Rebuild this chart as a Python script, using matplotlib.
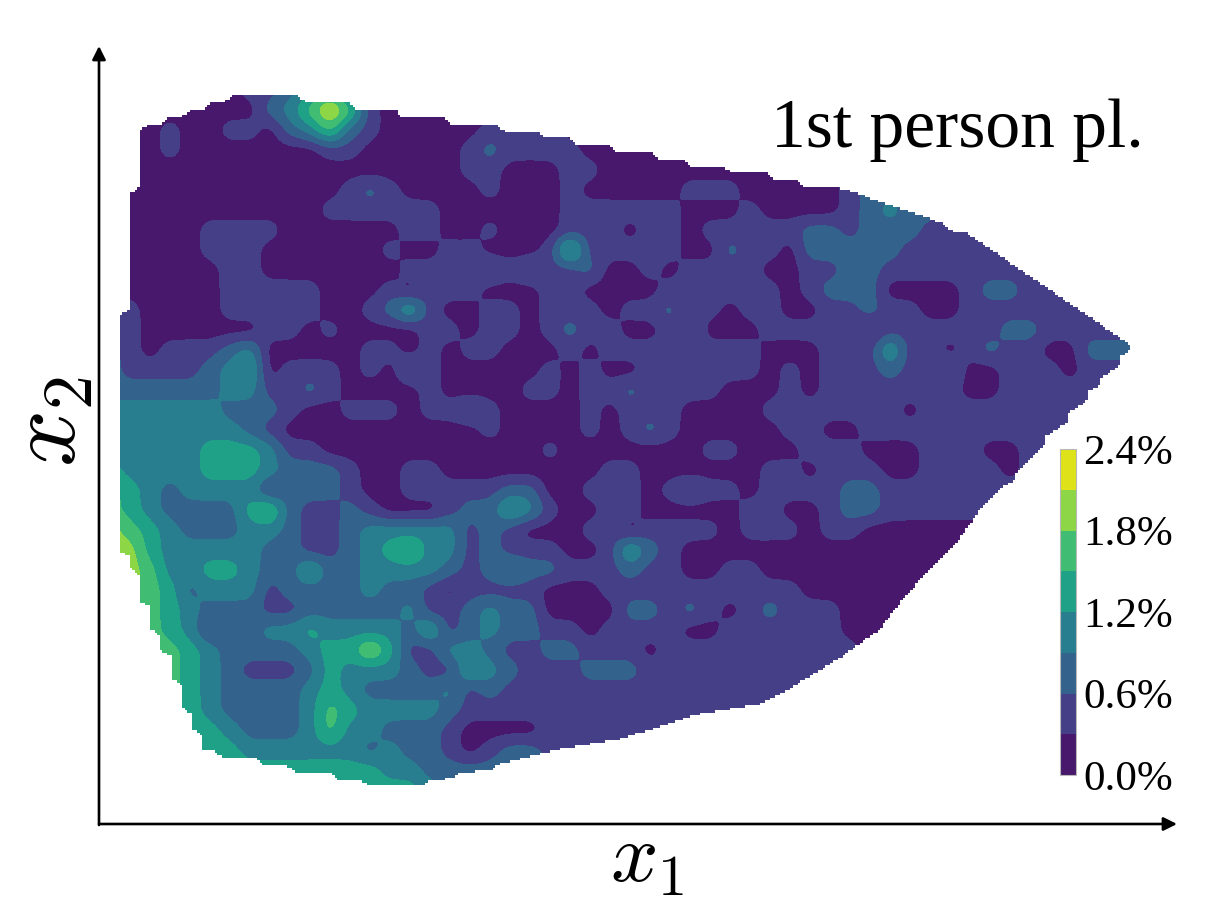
import numpy as np
import matplotlib
matplotlib.use("Agg")
from matplotlib import pyplot as plt
from matplotlib.path import Path

plt.rcParams['font.family'] = ['Liberation Serif', 'DejaVu Serif']
plt.rcParams['mathtext.fontset'] = 'cm'

# x1 / x2 have no scale in the picture, so positions are read off in image pixels
grid_x = [110 + 20 * i for i in range(52)]
grid_y = [90 + 20 * j for j in range(36)]

# band index per grid cell (0 = 0.0-0.3%, 1 = 0.3-0.6%, ...)
bands = [
 [0,0,0,0,0,0,0,1,1,2, 3,4,2,0,0,0,0,0,0,0, 0,0,0,0,0,0,0,0,0,0, 0,0,0,0,0,0,0,0,0,0, 0,0,0,0,0,0,0,0,0,0, 0,0],
 [0,0,0,0,0,0,0,0,2,3, 5,7,5,1,0,0,0,0,0,0, 0,0,0,0,0,0,0,0,0,0, 0,0,0,0,0,0,0,0,0,0, 0,0,0,0,0,0,0,0,0,0, 0,0],
 [0,0,0,1,0,0,1,1,0,2, 3,5,2,1,0,0,0,0,0,1, 1,1,1,0,0,0,0,0,0,0, 0,0,0,0,0,0,0,0,0,0, 0,0,0,0,0,0,0,0,0,0, 0,0],
 [0,0,0,1,0,0,0,0,0,0, 0,1,1,0,0,0,0,0,1,2, 1,1,1,1,0,0,0,0,0,0, 0,0,0,0,0,0,0,0,0,0, 0,0,0,0,0,0,0,0,0,0, 0,0],
 [0,0,0,0,0,0,0,0,0,0, 0,0,0,0,0,0,0,0,1,1, 0,0,0,1,1,0,0,0,0,0, 0,0,0,0,0,0,0,1,1,1, 1,1,1,1,1,1,1,1,1,1, 1,1],
 [0,0,0,0,0,0,0,0,0,0, 0,0,1,2,1,0,0,0,0,1, 0,0,0,1,0,0,0,0,0,1, 1,1,0,0,0,0,0,1,2,2, 2,1,1,1,1,1,1,1,1,1, 1,1],
 [0,0,0,0,0,0,0,0,0,0, 0,1,1,1,1,1,1,0,0,0, 0,0,0,1,1,1,1,1,1,0, 0,0,1,0,0,0,0,1,2,3, 2,2,1,1,1,1,1,1,1,1, 1,1],
 [0,0,0,0,0,1,1,1,1,0, 0,0,0,0,0,1,1,0,0,1, 0,0,0,1,1,1,0,1,1,0, 1,1,1,1,1,2,2,1,2,2, 2,1,1,1,1,1,1,1,1,1, 1,1],
 [0,0,0,0,0,1,1,1,0,0, 0,0,0,0,1,0,0,1,1,0, 0,0,1,5,1,1,1,1,1,0, 0,2,1,1,0,2,2,2,2,2, 1,1,1,1,1,1,1,1,1,1, 1,1],
 [0,0,0,0,0,0,1,1,0,0, 0,0,0,0,0,1,1,1,1,2, 1,2,1,1,2,0,0,1,0,1, 1,1,1,0,0,1,1,2,2,1, 1,1,1,1,1,1,1,1,1,1, 1,1],
 [0,0,0,0,0,0,1,1,1,1, 1,0,0,0,1,0,1,1,1,0, 0,0,1,1,0,0,0,0,1,1, 1,1,1,1,0,1,2,2,2,0, 0,0,0,1,2,2,1,1,1,1, 1,1],
 [2,1,0,0,0,0,1,1,1,1, 1,0,0,1,2,4,1,0,0,1, 1,0,1,1,1,0,1,1,2,0, 1,0,1,1,0,0,1,1,2,1, 1,0,0,1,1,1,1,1,1,1, 1,1],
 [2,1,0,0,0,0,0,0,1,1, 0,1,0,0,0,0,1,1,0,1, 1,0,1,2,1,1,0,0,1,2, 0,0,0,1,1,1,1,1,0,1, 1,1,1,1,1,2,2,1,1,1, 1,1],
 [2,1,0,1,1,1,2,3,0,0, 0,0,0,1,1,0,1,0,1,1, 0,0,0,1,0,1,1,1,1,1, 1,1,1,0,0,0,1,1,1,4, 1,1,0,1,2,1,1,0,0,2, 2,2],
 [2,1,1,1,1,2,3,4,0,1, 1,1,0,1,0,2,1,0,0,0, 0,0,1,0,1,0,0,1,1,1, 1,1,1,0,1,0,1,1,1,2, 1,1,2,0,0,1,1,1,0,1, 1,1],
 [2,2,2,2,2,2,3,3,1,1, 2,1,0,0,0,0,1,0,0,0, 0,1,1,0,1,1,2,1,1,1, 1,0,0,0,1,0,1,1,1,1, 1,1,1,0,0,1,1,1,1,1, 1,1],
 [3,3,3,3,3,3,2,2,2,1, 0,0,1,1,1,0,1,1,2,1, 0,0,0,0,1,0,1,1,1,0, 0,0,0,1,1,1,1,1,1,1, 0,1,1,1,1,1,1,1,1,1, 1,1],
 [3,3,3,3,3,3,3,2,1,0, 0,0,0,0,0,0,0,0,0,1, 0,0,0,0,1,0,1,2,1,0, 0,0,0,0,1,1,0,0,1,1, 1,1,1,1,1,1,1,1,1,1, 1,1],
 [3,3,3,3,3,4,4,4,3,1, 1,0,0,0,0,0,0,0,0,0, 0,0,1,0,0,0,0,0,0,0, 1,1,0,0,0,1,1,1,0,0, 0,1,1,1,0,0,1,1,1,1, 1,1],
 [4,3,3,3,3,4,4,4,3,2, 2,2,1,0,0,1,1,0,0,0, 0,0,0,0,0,1,1,0,0,0, 0,0,0,1,1,0,1,1,1,0, 0,1,1,1,1,0,1,1,1,1, 1,1],
 [5,4,3,2,3,3,3,3,1,2, 2,2,1,0,0,1,1,1,1,1, 2,2,0,0,1,1,1,0,1,2, 1,1,0,1,1,1,1,2,2,1, 1,1,1,1,1,1,1,1,1,1, 1,1],
 [5,4,3,2,2,2,2,4,5,2, 1,1,2,1,0,0,0,1,2,2, 4,3,1,0,0,1,1,0,0,0, 0,0,1,1,0,0,1,2,2,1, 1,1,1,1,1,1,1,1,1,1, 1,1],
 [6,5,4,3,2,2,2,3,3,2, 1,1,2,3,3,3,3,3,1,2, 1,0,0,0,1,1,0,1,1,1, 1,0,1,1,1,0,1,1,0,0, 0,0,0,0,0,0,0,0,0,0, 0,0],
 [6,6,4,3,3,3,3,3,2,2, 1,1,2,3,4,5,3,3,1,2, 1,1,1,0,0,1,4,2,1,0, 0,0,0,0,0,0,0,0,0,0, 0,0,0,0,0,0,0,0,0,0, 0,0],
 [6,6,5,3,3,4,4,3,2,2, 4,2,2,3,3,3,3,2,1,2, 3,2,2,1,1,1,2,1,1,0, 0,1,1,0,0,0,0,0,0,0, 0,0,0,0,0,0,0,0,0,0, 0,0],
 [6,6,5,4,2,3,3,3,1,2, 2,2,2,3,2,2,1,0,1,1, 1,1,0,0,0,1,1,1,1,1, 1,1,1,1,1,0,0,0,0,0, 0,0,0,0,0,0,0,0,0,0, 0,0],
 [6,6,5,4,3,2,2,2,1,1, 2,2,2,2,2,3,1,1,2,3, 2,2,0,0,0,0,2,2,1,2, 1,0,1,2,1,1,1,0,0,0, 0,0,0,0,0,0,0,0,0,0, 0,0],
 [5,5,5,4,3,1,2,2,3,3, 4,3,3,3,3,2,4,1,2,3, 2,2,1,1,0,1,1,1,1,0, 0,1,1,1,1,1,1,0,0,0, 0,0,0,0,0,0,0,0,0,0, 0,0],
 [5,5,5,5,4,3,2,2,2,2, 3,4,4,6,4,1,1,3,3,2, 1,1,2,2,1,1,1,0,1,1, 1,1,1,1,1,1,1,1,0,0, 0,0,0,0,0,0,0,0,0,0, 0,0],
 [5,5,5,5,4,3,2,1,1,1, 2,4,3,3,3,2,1,1,4,3, 2,1,1,1,2,2,2,1,1,1, 1,1,1,1,1,1,1,0,0,0, 0,0,0,0,0,0,0,0,0,0, 0,0],
 [5,5,5,5,4,3,2,2,2,2, 3,4,3,2,2,2,2,3,1,2, 1,1,1,1,1,1,1,1,1,1, 1,1,1,1,1,0,0,0,0,0, 0,0,0,0,0,0,0,0,0,0, 0,0],
 [5,5,5,5,4,3,2,2,2,2, 3,5,4,3,3,3,3,2,1,1, 1,1,1,1,1,1,1,1,1,1, 1,1,1,0,0,0,0,0,0,0, 0,0,0,0,0,0,0,0,0,0, 0,0],
 [4,4,4,4,4,4,3,2,2,2, 3,5,3,3,2,2,2,1,0,0, 0,0,1,1,1,1,1,1,1,1, 1,1,0,0,0,0,0,0,0,0, 0,0,0,0,0,0,0,0,0,0, 0,0],
 [4,4,4,4,4,4,4,3,3,3, 3,3,3,2,3,2,2,1,0,1, 2,2,1,1,1,1,1,1,1,1, 0,0,0,0,0,0,0,0,0,0, 0,0,0,0,0,0,0,0,0,0, 0,0],
 [4,4,4,4,4,4,4,4,4,4, 4,4,4,4,3,3,2,2,2,2, 2,2,2,2,2,2,2,2,2,2, 0,0,0,0,0,0,0,0,0,0, 0,0,0,0,0,0,0,0,0,0, 0,0],
 [4,4,4,4,4,4,4,4,4,4, 4,4,4,4,4,4,3,2,2,2, 2,2,2,2,2,2,2,2,2,2, 0,0,0,0,0,0,0,0,0,0, 0,0,0,0,0,0,0,0,0,0, 0,0],
]

# outline of the covered region, stairs as in the picture
outline_x = [118, 118, 129, 129, 139, 139, 148, 160, 170, 182, 192, 203, 210, 225, 232, 297, 305, 350, 358,
             397, 400, 443, 453, 497, 505, 538, 547, 570, 577, 610, 618, 652, 660, 683, 692, 723, 733, 767,
             775, 798, 807, 840, 860, 882, 903, 923, 943, 953, 965, 1130, 1130, 1120, 1120, 1100, 1100,
             1088, 1088, 1068, 1068, 1047, 1047, 1017, 1017, 1000, 985, 960, 930, 900, 880, 842, 790, 760,
             700, 660, 620, 560, 500, 490, 462, 455, 430, 423, 368, 358, 337, 328, 295, 285, 263, 255, 222,
             213, 202, 202, 192, 191, 181, 181, 171, 171, 160, 160, 150, 150, 139, 139, 128, 128]
outline_y = [552, 315, 308, 193, 186, 130, 123, 123, 115, 115, 108, 108, 102, 100, 94, 94, 100, 102, 108,
             108, 115, 115, 123, 123, 130, 130, 137, 137, 143, 143, 151, 151, 158, 158, 165, 165, 172, 172,
             179, 180, 187, 187, 193, 201, 208, 215, 222, 230, 230, 343, 352, 358, 367, 380, 387,
             393, 402, 415, 423, 437, 445, 475, 480, 490, 505, 540, 570, 605, 631, 658, 690, 705,
             715, 728, 740, 750, 765, 772, 773, 779, 782, 787, 787, 780, 780, 773, 773, 766, 766, 759, 759,
             752, 752, 737, 730, 715, 708, 686, 680, 657, 652, 637, 630, 608, 602, 578, 567, 557]

levels = [0.0, 0.3, 0.6, 0.9, 1.2, 1.5, 1.8, 2.1, 2.4]
band_colors = ["#47186b", "#453f87", "#33638d", "#287d8e", "#1fa187", "#40bd72", "#8dd645", "#dde318"]
cbar_ticks = [0.0, 0.6, 1.2, 1.8, 2.4]
cbar_labels = ["0.0%", "0.6%", "1.2%", "1.8%", "2.4%"]

# band -> percent at the middle of the band
z = (np.array(bands, dtype=float) + 0.5) * 0.3

# finer grid so the contours come out rounder
xf = np.arange(100, 1145, 2.5)
yf = np.arange(70, 801, 2.5)
zf = np.array([np.interp(xf, grid_x, row) for row in z])
zf = np.array([np.interp(yf, grid_y, col) for col in zf.T]).T
kernel = np.array([1, 4, 6, 4, 1]) / 16.0
for i in range(5):
    zf = np.apply_along_axis(lambda v: np.convolve(np.pad(v, 2, mode='edge'), kernel, mode='valid'), 1, zf)
    zf = np.apply_along_axis(lambda v: np.convolve(np.pad(v, 2, mode='edge'), kernel, mode='valid'), 0, zf)

X, Y = np.meshgrid(xf, yf)
poly = Path(np.column_stack([outline_x, outline_y]))
inside = poly.contains_points(np.column_stack([X.ravel(), Y.ravel()])).reshape(X.shape)
zm = np.ma.array(zf, mask=~inside)

fig = plt.figure(figsize=(12.08, 9.14), dpi=100)
ax = fig.add_axes([0, 0, 1, 1])
ax.set_xlim(0, 1208)
ax.set_ylim(914, 0)
ax.axis('off')

cf = ax.contourf(X, Y, zm, levels=levels, colors=band_colors, corner_mask=False)

# the two axis arrows
arrow = dict(arrowstyle='-|>', color='black', lw=1.9, mutation_scale=20, shrinkA=0, shrinkB=0)
ax.annotate('', xy=(99, 46), xytext=(99, 825), arrowprops=arrow)
ax.annotate('', xy=(1177, 824), xytext=(99, 824), arrowprops=arrow)

ax.text(647, 862, r'$x_1$', fontsize=60, ha='center', va='center')
ax.text(52, 422, r'$x_2$', fontsize=72, ha='center', va='center', rotation=90)
ax.text(957, 130, '1st person pl.', fontsize=50, ha='center', va='center')

cax = fig.add_axes([1060 / 1208, 1 - 775 / 914, 16 / 1208, 326 / 914])
cbar = fig.colorbar(cf, cax=cax, ticks=cbar_ticks)
cbar.ax.set_yticklabels(cbar_labels)
cbar.ax.tick_params(length=0, pad=5, labelsize=31)
cbar.outline.set_edgecolor('#b8b8b8')
cbar.outline.set_linewidth(0.8)

fig.savefig('out.png', dpi=100)
